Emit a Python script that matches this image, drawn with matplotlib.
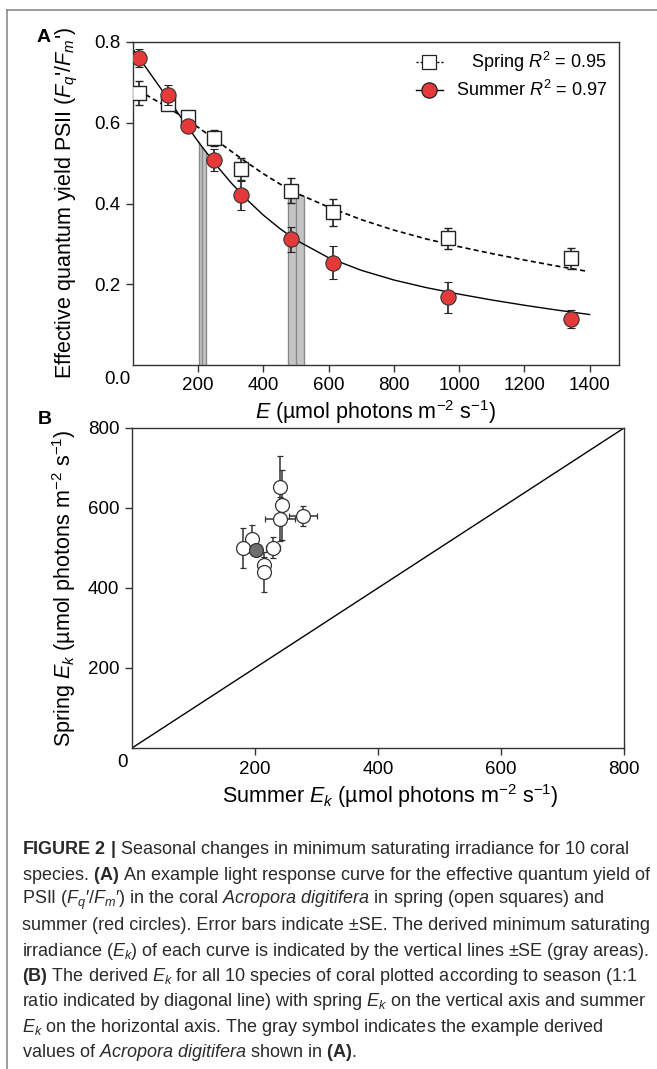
import numpy as np
import matplotlib
matplotlib.use('Agg')
import matplotlib.pyplot as plt
from matplotlib.lines import Line2D
from matplotlib import font_manager

plt.rcParams['font.family'] = ['Liberation Sans', 'DejaVu Sans']
plt.rcParams['mathtext.fontset'] = 'custom'
plt.rcParams['mathtext.rm'] = 'Liberation Sans'
plt.rcParams['mathtext.it'] = 'Liberation Sans:italic'
plt.rcParams['mathtext.bf'] = 'Liberation Sans:bold'

# ---------------- Panel A data ----------------
light_E = [17, 108, 170, 249, 332, 484, 612, 967, 1342]
spring_yield = [0.674, 0.647, 0.615, 0.563, 0.486, 0.432, 0.378, 0.314, 0.264]
spring_se = [0.030, 0.015, 0.012, 0.020, 0.027, 0.030, 0.033, 0.026, 0.027]
summer_yield = [0.760, 0.669, 0.593, 0.508, 0.420, 0.311, 0.253, 0.168, 0.114]
summer_se = [0.022, 0.025, 0.015, 0.027, 0.035, 0.031, 0.041, 0.038, 0.022]

# fitted curves
summer_fit_E = [0, 25, 50, 100, 150, 200, 250, 300, 350, 400, 450, 500, 600,
                700, 800, 900, 1000, 1100, 1200, 1300, 1400]
summer_fit_y = [0.782, 0.7535, 0.725, 0.668, 0.610, 0.553, 0.500, 0.452, 0.409,
                0.371, 0.338, 0.3095, 0.2655, 0.2345, 0.2105, 0.1915, 0.1755,
                0.161, 0.148, 0.136, 0.125]
spring_fit_E = [17, 50, 100, 150, 200, 250, 300, 350, 400, 450, 500, 600, 700,
                800, 900, 1000, 1100, 1200, 1300, 1390]
spring_fit_y = [0.680, 0.6645, 0.641, 0.616, 0.5885, 0.5595, 0.530, 0.501,
                0.4735, 0.4485, 0.426, 0.391, 0.360, 0.334, 0.312, 0.293,
                0.276, 0.260, 0.245, 0.2324]

# derived Ek +- SE
summer_Ek, summer_Ek_se = 212, 11
spring_Ek, spring_Ek_se = 499, 25

# ---------------- Panel B data ----------------
summer_Ek_all = [240, 244, 241, 278, 195, 180, 229, 215, 215]
summer_Ek_all_se = [5, 5, 24, 22, 5, 10, 11, 5, 5]
spring_Ek_all = [653, 607, 572, 580, 522, 501, 501, 457, 441]
spring_Ek_all_se = [77, 88, 55, 25, 35, 50, 26, 20, 50]
example_summer, example_spring = 201, 495
example_summer_se, example_spring_se = 6, 8

fig = plt.figure(figsize=(6.57, 10.69), dpi=100)
W, H = 657.0, 1069.0


def ax_rect(l, r, t, b):
    return [l / W, 1 - b / H, (r - l) / W, (b - t) / H]


def style(ax):
    for s in ax.spines.values():
        s.set_linewidth(1.0)
        s.set_color('#333333')
    ax.tick_params(direction='out', length=5, width=1, labelsize=13.5,
                   color='#333333', pad=4)

# ---------------- Panel A ----------------
axA = fig.add_axes(ax_rect(133, 619, 42, 365))
style(axA)
axA.set_xlim(0, 1490)
axA.set_ylim(0, 0.8)

for Ek, se, fx, fy in [(summer_Ek, summer_Ek_se, summer_fit_E, summer_fit_y),
                       (spring_Ek, spring_Ek_se, spring_fit_E, spring_fit_y)]:
    xs = np.linspace(Ek - se, Ek + se, 20)
    tops = np.interp(xs, fx, fy)
    axA.fill_between(xs, 0, tops, color='#c4c4c4', lw=0, zorder=1)
    for xv in (Ek - se, Ek, Ek + se):
        axA.plot([xv, xv], [0, np.interp(xv, fx, fy)], color='#8a8a8a',
                 lw=1.0, zorder=1.5)

axA.plot(spring_fit_E, spring_fit_y, color='black', lw=1.2,
         linestyle=(0, (3, 2)), zorder=2)
axA.plot(summer_fit_E, summer_fit_y, color='black', lw=1.0, zorder=2,
         clip_on=True)

axA.errorbar(light_E, spring_yield, yerr=spring_se, fmt='s', ms=10,
             mfc='white', mec='#222222', mew=1.0, ecolor='#222222',
             elinewidth=1.2, capsize=3, capthick=1.2, zorder=3)
axA.errorbar(light_E, summer_yield, yerr=summer_se, fmt='o', ms=11,
             mfc='#e53a3a', mec='#333333', mew=0.8, ecolor='#222222',
             elinewidth=1.2, capsize=3, capthick=1.2, zorder=4)

axA.set_xticks([200, 400, 600, 800, 1000, 1200, 1400])
axA.set_yticks([0.2, 0.4, 0.6, 0.8])
axA.set_yticklabels(['0.2', '0.4', '0.6', '0.8'])
axA.text(-0.033, -0.046, '0.0', transform=axA.transAxes, ha='center',
         va='center', fontsize=13.5)
axA.set_ylabel("Effective quantum yield PSII ($F_q$'/$F_m$')", fontsize=15.5)
axA.yaxis.set_label_coords(-0.11, 0.5)
axA.set_xlabel(r"$E$ (µmol photons m$^{-2}$ s$^{-1}$)", fontsize=15.5)
axA.xaxis.set_label_coords(0.5, -0.103)

# manual legend
for yy, ls, mk, mfc, lab in [(0.938, (0, (1.5, 1.5)), 's', 'white', r"Spring $R^2$ = 0.95"),
                             (0.851, '-', 'o', '#e53a3a', r"Summer $R^2$ = 0.97")]:
    axA.plot([0.582, 0.638], [yy, yy], transform=axA.transAxes, color='black',
             lw=1.0, linestyle=ls, zorder=5)
    axA.plot([0.61], [yy], transform=axA.transAxes, marker=mk,
             ms=10 if mk == 's' else 11, mfc=mfc, mec='#222222', mew=0.9,
             zorder=6)
    axA.text(0.975, yy, lab, transform=axA.transAxes, ha='right', va='center',
             fontsize=13)

fig.text(44 / W, 1 - 37 / H, 'A', fontsize=14, fontweight='bold',
         ha='center', va='center')

# ---------------- Panel B ----------------
axB = fig.add_axes(ax_rect(132, 624, 428, 748))
style(axB)
axB.set_xlim(0, 800)
axB.set_ylim(0, 800)
axB.plot([0, 800], [0, 800], color='black', lw=1.0, zorder=1)
axB.errorbar(summer_Ek_all, spring_Ek_all, xerr=summer_Ek_all_se,
             yerr=spring_Ek_all_se, fmt='o', ms=10, mfc='white',
             mec='#333333', mew=0.9, ecolor='#333333', elinewidth=1.1,
             capsize=2.5, capthick=1.1, zorder=3)
axB.errorbar([example_summer], [example_spring], xerr=[example_summer_se],
             yerr=[example_spring_se], fmt='o', ms=10, mfc='#6e6e6e',
             mec='#333333', mew=0.9, ecolor='#333333', elinewidth=1.1,
             capsize=2.5, capthick=1.1, zorder=4)
axB.set_xticks([200, 400, 600, 800])
axB.set_yticks([200, 400, 600, 800])
axB.text(-0.02, -0.044, '0', transform=axB.transAxes, ha='center',
         va='center', fontsize=13.5)
axB.set_ylabel(r"Spring $E_k$ (µmol photons m$^{-2}$ s$^{-1}$)", fontsize=15.5)
axB.yaxis.set_label_coords(-0.11, 0.5)
axB.set_xlabel(r"Summer $E_k$ (µmol photons m$^{-2}$ s$^{-1}$)", fontsize=15.5)
axB.xaxis.set_label_coords(0.524, -0.108)

fig.text(45 / W, 1 - 419 / H, 'B', fontsize=14, fontweight='bold',
         ha='center', va='center')

# ---------------- figure frame ----------------
fig.add_artist(Line2D([7 / W, 7 / W], [0, 1 - 10 / H], color='#8c8c8c', lw=1.2))
fig.add_artist(Line2D([7 / W, 1], [1 - 10 / H, 1 - 10 / H], color='#8c8c8c', lw=1.2))

# ---------------- caption ----------------
names = {f.name for f in font_manager.fontManager.ttflist}
cap_font = 'Liberation Sans Narrow' if 'Liberation Sans Narrow' in names else 'Liberation Sans'
if cap_font != 'Liberation Sans':
    plt.rcParams['mathtext.rm'] = cap_font
    plt.rcParams['mathtext.it'] = cap_font + ':italic'
    plt.rcParams['mathtext.bf'] = cap_font + ':bold'

caption = [
    r"$\bf{FIGURE\ 2\ |}$ Seasonal changes in minimum saturating irradiance for 10 coral",
    r"species. $\bf{(A)}$ An example light response curve for the effective quantum yield of",
    r"PSII ($F_q$′/$F_m$′) in the coral $\it{Acropora\ digitifera}$ in spring (open squares) and",
    "summer (red circles). Error bars indicate ±SE. The derived minimum saturating",
    r"irradiance ($E_k$) of each curve is indicated by the vertical lines ±SE (gray areas).",
    r"$\bf{(B)}$ The derived $E_k$ for all 10 species of coral plotted according to season (1:1",
    r"ratio indicated by diagonal line) with spring $E_k$ on the vertical axis and summer",
    r"$E_k$ on the horizontal axis. The gray symbol indicates the example derived",
    r"values of $\it{Acropora\ digitifera}$ shown in $\bf{(A)}$.",
]
texts = []
for i, line in enumerate(caption):
    y = 850 + 25.3 * i
    texts.append(fig.text(22 / W, 1 - y / H, line, ha='left', va='center',
                          fontsize=11.5, color='#2a2a2a', family=cap_font))
fig.canvas.draw()
r = fig.canvas.get_renderer()
w = texts[1].get_window_extent(r).width
scale = 632.0 / w
for t in texts:
    t.set_fontsize(11.5 * scale)

fig.savefig('out.png', dpi=100)
